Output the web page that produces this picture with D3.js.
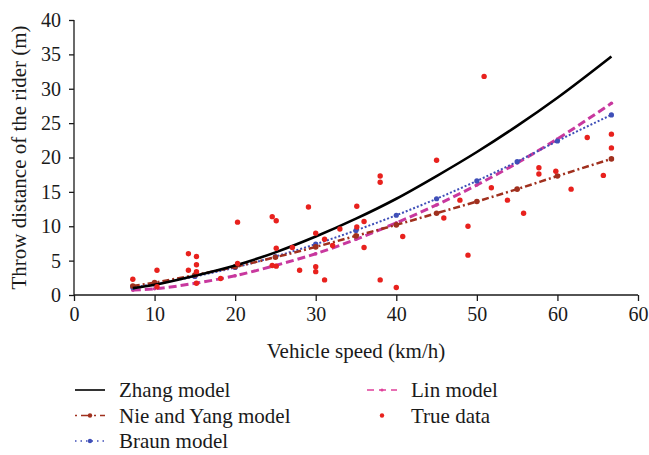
<!DOCTYPE html>
<html>
<head>
<meta charset="utf-8">
<script src="https://cdn.jsdelivr.net/npm/d3@7"></script>
<style>
    body { margin: 0; background: #ffffff; }
    svg text { font-family: "Liberation Serif", "DejaVu Serif", serif; fill: #1a1a1a; }
</style>
</head>
<body>
<svg id="chart"></svg>
<script>
let width = 649;
let height = 455;

// model curves (speed km/h -> distance m)
let model_speeds = [7.3, 10, 15, 20, 25, 30, 35, 40, 45, 50, 55, 60, 66.7];
let zhang_values = [1.0, 1.5, 2.8, 4.3, 6.2, 8.5, 11.1, 14.0, 17.3, 20.8, 24.6, 28.7, 34.7];
let nie_yang_values = [1.3, 1.8, 2.9, 4.1, 5.5, 7.0, 8.6, 10.2, 11.9, 13.6, 15.4, 17.3, 19.8];
let braun_values = [1.1, 1.6, 2.7, 4.0, 5.6, 7.4, 9.4, 11.6, 14.0, 16.6, 19.4, 22.4, 26.2];
let lin_values = [0.7, 0.9, 1.7, 2.8, 4.3, 6.0, 8.1, 10.5, 13.1, 16.0, 19.2, 22.7, 27.9];

// measured throw distances
let true_speeds = [7.3, 10.3, 10.3, 14.2, 14.2, 15.2, 15.2, 15.2, 15.2, 18.2, 20.3, 20.3,
    24.6, 25.1, 25.1, 24.6, 25.1, 27.1, 28, 29.1, 30, 30, 30, 31.1, 31.1, 32.1, 33,
    35.1, 35.1, 36, 36, 38, 38, 38, 40, 40.8, 45, 45.9, 47.9, 48.9, 48.9, 50.9, 51.8,
    53.8, 55.8, 57.7, 57.7, 59.8, 61.7, 63.7, 65.7, 66.7, 66.7];
let true_values = [2.3, 3.6, 1.2, 6.0, 3.6, 5.6, 4.4, 3.4, 1.7, 2.4, 10.6, 4.6,
    11.4, 10.8, 6.8, 4.3, 4.2, 6.9, 3.6, 12.8, 9.0, 4.1, 3.4, 8.1, 2.2, 7.2, 9.6,
    12.9, 9.9, 10.7, 6.9, 17.3, 16.4, 2.2, 1.1, 8.5, 19.6, 11.2, 13.8, 10.0, 5.8, 31.8, 15.6,
    13.8, 11.9, 18.5, 17.6, 18.0, 15.4, 22.9, 17.4, 23.4, 21.4];

let x_ticks = [0, 10, 20, 30, 40, 50, 60, 70];
let x_tick_labels = ["0", "10", "20", "30", "40", "50", "60", "60"];
let y_ticks = [0, 5, 10, 15, 20, 25, 30, 35, 40];

let series = [
    {name: "Lin model", values: lin_values, color: "#c8389e", width: 3, dash: "8,4", marker: 1.8},
    {name: "Braun model", values: braun_values, color: "#3f4fb8", width: 2, dash: "2,2", marker: 2.6},
    {name: "Nie and Yang model", values: nie_yang_values, color: "#a0301e", width: 2.5, dash: "7,3,2,3", marker: 2.8},
    {name: "Zhang model", values: zhang_values, color: "#000000", width: 2.6, dash: null, marker: 0}
];

function draw_chart() {
    let svg = d3.select("#chart")
        .attr("width", width)
        .attr("height", height);

    let x = d3.scaleLinear().domain([0, 70]).range([74, 638]);
    let y = d3.scaleLinear().domain([0, 40]).range([295, 20]);

    // axes
    let x_axis = d3.axisBottom(x)
        .tickValues(x_ticks)
        .tickFormat(function (d, i) { return x_tick_labels[i]; })
        .tickSize(6)
        .tickPadding(6);

    let y_axis = d3.axisLeft(y)
        .tickValues(y_ticks)
        .tickSize(5)
        .tickPadding(8);

    let gx = svg.append("g")
        .attr("transform", "translate(0," + y(0) + ")")
        .call(x_axis);

    let gy = svg.append("g")
        .attr("transform", "translate(" + x(0) + ",0)")
        .call(y_axis);

    [gx, gy].forEach(function (g) {
        g.select(".domain").attr("stroke", "#1a1a1a").attr("stroke-width", 1.3);
        g.selectAll(".tick line").attr("stroke", "#1a1a1a").attr("stroke-width", 1.3);
        g.selectAll(".tick text").style("font-size", "20px").attr("font-family", null);
    });
    gx.select(".domain").attr("d", "M" + x(0) + ",0H" + x(70));
    gy.select(".domain").attr("d", "M0," + y(0) + "V" + y(40));

    svg.append("text")
        .attr("x", 356)
        .attr("y", 358)
        .attr("text-anchor", "middle")
        .style("font-size", "21px")
        .text("Vehicle speed (km/h)");

    svg.append("text")
        .attr("transform", "translate(26," + ((y(0) + y(40)) / 2) + ") rotate(-90)")
        .attr("text-anchor", "middle")
        .style("font-size", "21px")
        .text("Throw distance of the rider (m)");

    // model lines
    let line = d3.line()
        .x(function (d, i) { return x(model_speeds[i]); })
        .y(function (d) { return y(d); })
        .curve(d3.curveMonotoneX);

    let plot = svg.append("g").attr("class", "plot");

    series.forEach(function (s) {
        plot.append("path")
            .datum(s.values)
            .attr("d", line)
            .attr("fill", "none")
            .attr("stroke", s.color)
            .attr("stroke-width", s.width)
            .attr("stroke-dasharray", s.dash);

        if (s.marker > 0) {
            plot.append("g")
                .selectAll("circle")
                .data(s.values)
                .enter().append("circle")
                .attr("cx", function (d, i) { return x(model_speeds[i]); })
                .attr("cy", function (d) { return y(d); })
                .attr("r", s.marker)
                .attr("fill", s.color);
        }
    });

    // true data
    plot.append("g")
        .selectAll("circle")
        .data(true_values)
        .enter().append("circle")
        .attr("cx", function (d, i) { return x(true_speeds[i]); })
        .attr("cy", function (d) { return y(d); })
        .attr("r", 2.7)
        .attr("fill", "#e8211d");

    // legend
    let legend_items = [
        {name: "Zhang model", color: "#000000", width: 1.6, dash: null, marker: 0, col: 0, row: 0},
        {name: "Nie and Yang model", color: "#a0301e", width: 1.6, dash: "2,4,9,4", marker: 2.2, col: 0, row: 1},
        {name: "Braun model", color: "#3f4fb8", width: 1.4, dash: "1.5,4", marker: 2.2, col: 0, row: 2},
        {name: "Lin model", color: "#e0409a", width: 1.6, dash: "7,5", marker: 1.5, col: 1, row: 0},
        {name: "True data", color: "#e8211d", width: 0, dash: null, marker: 2.2, col: 1, row: 1}
    ];

    let legend = svg.append("g").attr("class", "legend");

    let items = legend.selectAll("g")
        .data(legend_items)
        .enter().append("g")
        .attr("transform", function (d) {
            return "translate(" + (d.col === 0 ? 75 : 367) + "," + (390 + d.row * 25.5) + ")";
        });

    items.filter(function (d) { return d.width > 0; })
        .append("line")
        .attr("x1", 0)
        .attr("x2", 30)
        .attr("stroke", function (d) { return d.color; })
        .attr("stroke-width", function (d) { return d.width; })
        .attr("stroke-dasharray", function (d) { return d.dash; });

    items.filter(function (d) { return d.marker > 0; })
        .append("circle")
        .attr("cx", 15)
        .attr("r", function (d) { return d.marker; })
        .attr("fill", function (d) { return d.color; });

    items.append("text")
        .attr("x", 44)
        .attr("y", 7)
        .style("font-size", "21px")
        .text(function (d) { return d.name; });
}

draw_chart();
</script>
</body>
</html>
